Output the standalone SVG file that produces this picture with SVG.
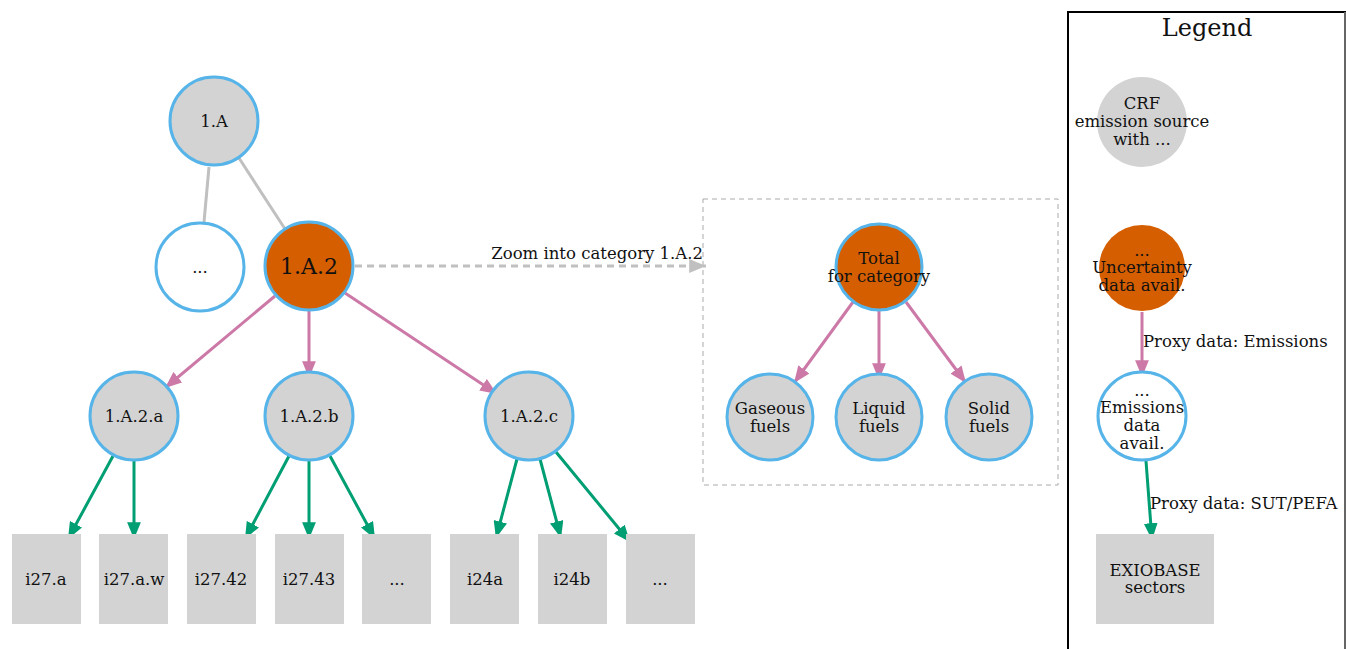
<svg xmlns="http://www.w3.org/2000/svg" width="1346" height="649" viewBox="0 0 1346 649">
<style>
text{font-family:"DejaVu Serif","Liberation Serif",serif;font-size:16.5px;fill:#111;text-anchor:middle;dominant-baseline:central}
.n{fill:#d3d3d3;stroke:#56b4e9;stroke-width:3}
.o{fill:#d55e00;stroke:#56b4e9;stroke-width:3}
.w{fill:#fff;stroke:#56b4e9;stroke-width:3}
.b{fill:#d3d3d3}
.g{stroke:#c0c0c0;stroke-width:3;fill:none}
.p{stroke:#cc79a7;stroke-width:3;fill:none}
.e{stroke:#009e73;stroke-width:3;fill:none}
</style>
<defs>
<marker id="ap" viewBox="0 0 10 10" refX="10" refY="5" markerWidth="5.6" markerHeight="4.6" markerUnits="strokeWidth" orient="auto" preserveAspectRatio="none"><path d="M0,0L10,5L0,10z" fill="#cc79a7"/></marker>
<marker id="ag" viewBox="0 0 10 10" refX="10" refY="5" markerWidth="5.6" markerHeight="4.6" markerUnits="strokeWidth" orient="auto" preserveAspectRatio="none"><path d="M0,0L10,5L0,10z" fill="#009e73"/></marker>
<marker id="ay" viewBox="0 0 10 10" refX="10" refY="5" markerWidth="5.6" markerHeight="4.6" markerUnits="strokeWidth" orient="auto" preserveAspectRatio="none"><path d="M0,0L10,5L0,10z" fill="#c0c0c0"/></marker>
</defs>
<rect width="1346" height="649" fill="#fff"/>
<rect id="cluster" x="703" y="199" width="355" height="286" fill="none" stroke="#aaa" stroke-width="1" stroke-dasharray="5,4"/>
<g id="connectors">
<line class="g" x1="209" y1="167" x2="204" y2="222"/>
<line class="g" x1="239" y1="158" x2="285" y2="229"/>
<line class="g" x1="355" y1="266" x2="706" y2="266" stroke-dasharray="7,5" marker-end="url(#ay)"/>
<text x="703" y="253" style="text-anchor:end">Zoom into category 1.A.2</text>
<line class="p" x1="275" y1="296" x2="165" y2="388" marker-end="url(#ap)"/>
<line class="p" x1="309" y1="311" x2="309" y2="378" marker-end="url(#ap)"/>
<line class="p" x1="345" y1="293" x2="497" y2="394" marker-end="url(#ap)"/>
<line class="e" x1="113" y1="456" x2="68" y2="539" marker-end="url(#ag)"/>
<line class="e" x1="134" y1="461" x2="134" y2="539" marker-end="url(#ag)"/>
<line class="e" x1="289" y1="456" x2="245" y2="539" marker-end="url(#ag)"/>
<line class="e" x1="309" y1="461" x2="309" y2="539" marker-end="url(#ag)"/>
<line class="e" x1="330" y1="456" x2="375" y2="539" marker-end="url(#ag)"/>
<line class="e" x1="517" y1="459" x2="496" y2="538" marker-end="url(#ag)"/>
<line class="e" x1="540" y1="459" x2="561" y2="538" marker-end="url(#ag)"/>
<line class="e" x1="556" y1="452" x2="630" y2="542" marker-end="url(#ag)"/>
<line class="p" x1="853" y1="302" x2="794" y2="383" marker-end="url(#ap)"/>
<line class="p" x1="879" y1="311" x2="879" y2="380" marker-end="url(#ap)"/>
<line class="p" x1="906" y1="302" x2="966" y2="383" marker-end="url(#ap)"/>
<line class="p" x1="1142" y1="312" x2="1142" y2="377" marker-end="url(#ap)"/>
<text x="1143" y="341" style="text-anchor:start">Proxy data: Emissions</text>
<line class="e" x1="1146" y1="461" x2="1152" y2="540" marker-end="url(#ag)"/>
<text x="1150" y="503" style="text-anchor:start">Proxy data: SUT/PEFA</text>
</g>
<g id="n1A"><circle class="n" cx="214" cy="121" r="44"/><text x="214" y="121">1.A</text></g>
<g id="nDots"><circle class="w" cx="200" cy="267" r="44"/><text x="200" y="267">...</text></g>
<g id="n1A2"><circle class="o" cx="309" cy="266" r="44"/><text x="309" y="266" style="font-size:22px">1.A.2</text></g>
<g id="n1A2a"><circle class="n" cx="134" cy="416" r="44"/><text x="134" y="416">1.A.2.a</text></g>
<g id="n1A2b"><circle class="n" cx="309" cy="416" r="44"/><text x="309" y="416">1.A.2.b</text></g>
<g id="n1A2c"><circle class="n" cx="529" cy="416" r="44"/><text x="529" y="416">1.A.2.c</text></g>
<g id="i27a"><rect class="b" x="12" y="534" width="69" height="90"/><text x="46" y="579">i27.a</text></g>
<g id="i27aw"><rect class="b" x="99" y="534" width="69" height="90"/><text x="134" y="579">i27.a.w</text></g>
<g id="i2742"><rect class="b" x="187" y="534" width="69" height="90"/><text x="221" y="579">i27.42</text></g>
<g id="i2743"><rect class="b" x="275" y="534" width="69" height="90"/><text x="309" y="579">i27.43</text></g>
<g id="dotsB"><rect class="b" x="362" y="534" width="69" height="90"/><text x="397" y="579">...</text></g>
<g id="i24a"><rect class="b" x="450" y="534" width="69" height="90"/><text x="485" y="579">i24a</text></g>
<g id="i24b"><rect class="b" x="538" y="534" width="69" height="90"/><text x="572" y="579">i24b</text></g>
<g id="dotsC"><rect class="b" x="626" y="534" width="69" height="90"/><text x="660" y="579">...</text></g>
<g id="total"><circle class="o" cx="879" cy="267" r="43"/><text x="879" y="258">Total</text><text x="879" y="276">for category</text></g>
<g id="gas"><circle class="n" cx="770" cy="417" r="43"/><text x="770" y="408">Gaseous</text><text x="770" y="426">fuels</text></g>
<g id="liq"><circle class="n" cx="879" cy="417" r="43"/><text x="879" y="408">Liquid</text><text x="879" y="426">fuels</text></g>
<g id="sol"><circle class="n" cx="989" cy="417" r="43"/><text x="989" y="408">Solid</text><text x="989" y="426">fuels</text></g>
<g id="legend">
<path d="M1068,650V12H1345V650" fill="none" stroke="#000" stroke-width="2"/>
<line x1="1345" y1="12" x2="1345" y2="649" stroke="#ccc" stroke-width="1"/>
<text x="1207" y="28" style="font-size:24px">Legend</text>
</g>
<g id="lCRF"><circle class="b" cx="1142" cy="122" r="45"/><text x="1142" y="103">CRF</text><text x="1142" y="121">emission source</text><text x="1142" y="139">with ...</text></g>
<g id="lUnc"><circle fill="#d55e00" cx="1142" cy="268" r="43"/><text x="1142" y="250">...</text><text x="1142" y="267">Uncertainty</text><text x="1142" y="285">data avail.</text></g>
<g id="lEmi"><circle class="w" cx="1142" cy="416" r="44"/><text x="1142" y="390">...</text><text x="1142" y="407">Emissions</text><text x="1142" y="425">data</text><text x="1142" y="443">avail.</text></g>
<g id="lExio"><rect class="b" x="1096" y="534" width="118" height="90"/><text x="1155" y="570">EXIOBASE</text><text x="1155" y="587">sectors</text></g>
</svg>
